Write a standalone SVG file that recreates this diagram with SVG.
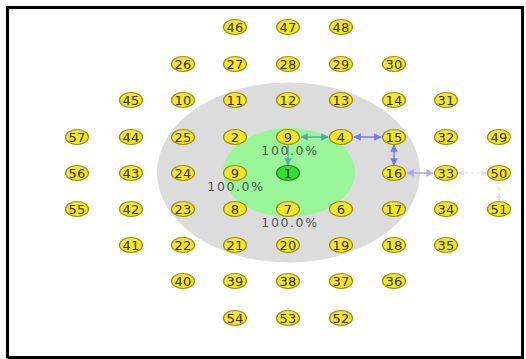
<svg xmlns="http://www.w3.org/2000/svg" width="526" height="359" viewBox="0 0 526 359">
<defs>
<style>
.n ellipse{fill:#f5e52a;stroke:#9a8a20;stroke-width:1.2}
.n text{font-family:"DejaVu Sans",sans-serif;font-size:13px;fill:#333322;text-anchor:middle;letter-spacing:0.3px}
.g ellipse{fill:#33dd33;stroke:#228822}
.pct{font-family:"DejaVu Sans",sans-serif;font-size:12.5px;fill:#555;text-anchor:middle;letter-spacing:1.6px}
.t{stroke:#55aaaa;stroke-width:1.5;fill:none}
.b{stroke:#7777ee;stroke-width:1.5;fill:none}
.b2{stroke:#aaaaf5;stroke-width:1.5;fill:none}
.f{stroke:#dcdcf8;stroke-width:1.2;fill:none;stroke-dasharray:3 3}
</style>
<marker id="at" viewBox="0 0 10 10" refX="9" refY="5" markerWidth="5" markerHeight="5" orient="auto-start-reverse"><path d="M0,0L10,5L0,10z" fill="#55aaaa"/></marker>
<marker id="ab" viewBox="0 0 10 10" refX="9" refY="5" markerWidth="5" markerHeight="5" orient="auto-start-reverse"><path d="M0,0L10,5L0,10z" fill="#7777ee"/></marker>
<marker id="ab2" viewBox="0 0 10 10" refX="9" refY="5" markerWidth="5" markerHeight="5" orient="auto-start-reverse"><path d="M0,0L10,5L0,10z" fill="#aaaaf5"/></marker>
<marker id="af" viewBox="0 0 10 10" refX="9" refY="5" markerWidth="5" markerHeight="5" orient="auto-start-reverse"><path d="M0,0L10,5L0,10z" fill="#dcdcf8"/></marker>
</defs>
<rect width="526" height="359" fill="#fff"/>
<path d="M7.5,358 V7.5 H522.5 V357.5 H7.5" fill="none" stroke="#000" stroke-width="3"/>
<ellipse cx="288.5" cy="172.5" rx="131.5" ry="90" fill="#dcdcdc"/>
<ellipse cx="289" cy="172.5" rx="66" ry="44.5" fill="#98f598"/>
<g id="connectors">
<line class="t" x1="301" y1="137" x2="328" y2="137" marker-start="url(#at)" marker-end="url(#at)"/>
<line class="t" x1="288" y1="145" x2="288" y2="165" marker-end="url(#at)"/>
<line class="b" x1="354" y1="137" x2="381" y2="137" marker-start="url(#ab)" marker-end="url(#ab)"/>
<line class="b" x1="394" y1="145" x2="394" y2="165" marker-start="url(#ab)" marker-end="url(#ab)"/>
<line class="b2" x1="407" y1="173" x2="433" y2="173" marker-start="url(#ab2)" marker-end="url(#ab2)"/>
<line class="f" x1="459" y1="173" x2="486" y2="173" marker-start="url(#af)" marker-end="url(#af)"/>
<line class="f" x1="499" y1="181" x2="499" y2="201" marker-end="url(#af)"/>
</g>
<text class="pct" x="290" y="155">100.0%</text>
<text class="pct" x="236" y="191">100.0%</text>
<text class="pct" x="290" y="227">100.0%</text>
<g id="n46" class="n"><ellipse cx="235" cy="27" rx="11.5" ry="7.5"/><text x="235" y="31.5">46</text></g>
<g id="n47" class="n"><ellipse cx="288" cy="27" rx="11.5" ry="7.5"/><text x="288" y="31.5">47</text></g>
<g id="n48" class="n"><ellipse cx="341" cy="27" rx="11.5" ry="7.5"/><text x="341" y="31.5">48</text></g>
<g id="n26" class="n"><ellipse cx="183" cy="64" rx="11.5" ry="7.5"/><text x="183" y="68.5">26</text></g>
<g id="n27" class="n"><ellipse cx="235" cy="64" rx="11.5" ry="7.5"/><text x="235" y="68.5">27</text></g>
<g id="n28" class="n"><ellipse cx="288" cy="64" rx="11.5" ry="7.5"/><text x="288" y="68.5">28</text></g>
<g id="n29" class="n"><ellipse cx="341" cy="64" rx="11.5" ry="7.5"/><text x="341" y="68.5">29</text></g>
<g id="n30" class="n"><ellipse cx="394" cy="64" rx="11.5" ry="7.5"/><text x="394" y="68.5">30</text></g>
<g id="n45" class="n"><ellipse cx="131" cy="100" rx="11.5" ry="7.5"/><text x="131" y="104.5">45</text></g>
<g id="n10" class="n"><ellipse cx="183" cy="100" rx="11.5" ry="7.5"/><text x="183" y="104.5">10</text></g>
<g id="n11" class="n"><ellipse cx="235" cy="100" rx="11.5" ry="7.5"/><text x="235" y="104.5">11</text></g>
<g id="n12" class="n"><ellipse cx="288" cy="100" rx="11.5" ry="7.5"/><text x="288" y="104.5">12</text></g>
<g id="n13" class="n"><ellipse cx="341" cy="100" rx="11.5" ry="7.5"/><text x="341" y="104.5">13</text></g>
<g id="n14" class="n"><ellipse cx="394" cy="100" rx="11.5" ry="7.5"/><text x="394" y="104.5">14</text></g>
<g id="n31" class="n"><ellipse cx="446" cy="100" rx="11.5" ry="7.5"/><text x="446" y="104.5">31</text></g>
<g id="n57" class="n"><ellipse cx="77" cy="137" rx="11.5" ry="7.5"/><text x="77" y="141.5">57</text></g>
<g id="n44" class="n"><ellipse cx="131" cy="137" rx="11.5" ry="7.5"/><text x="131" y="141.5">44</text></g>
<g id="n25" class="n"><ellipse cx="183" cy="137" rx="11.5" ry="7.5"/><text x="183" y="141.5">25</text></g>
<g id="n2" class="n"><ellipse cx="235" cy="137" rx="11.5" ry="7.5"/><text x="235" y="141.5">2</text></g>
<g id="n9b" class="n"><ellipse cx="288" cy="137" rx="11.5" ry="7.5"/><text x="288" y="141.5">9</text></g>
<g id="n4" class="n"><ellipse cx="341" cy="137" rx="11.5" ry="7.5"/><text x="341" y="141.5">4</text></g>
<g id="n15" class="n"><ellipse cx="394" cy="137" rx="11.5" ry="7.5"/><text x="394" y="141.5">15</text></g>
<g id="n32" class="n"><ellipse cx="446" cy="137" rx="11.5" ry="7.5"/><text x="446" y="141.5">32</text></g>
<g id="n49" class="n"><ellipse cx="499" cy="137" rx="11.5" ry="7.5"/><text x="499" y="141.5">49</text></g>
<g id="n56" class="n"><ellipse cx="77" cy="173" rx="11.5" ry="7.5"/><text x="77" y="177.5">56</text></g>
<g id="n43" class="n"><ellipse cx="131" cy="173" rx="11.5" ry="7.5"/><text x="131" y="177.5">43</text></g>
<g id="n24" class="n"><ellipse cx="183" cy="173" rx="11.5" ry="7.5"/><text x="183" y="177.5">24</text></g>
<g id="n9" class="n"><ellipse cx="235" cy="173" rx="11.5" ry="7.5"/><text x="235" y="177.5">9</text></g>
<g id="n1" class="n g"><ellipse cx="288" cy="173" rx="11.5" ry="7.5"/><text x="288" y="177.5">1</text></g>
<g id="n16" class="n"><ellipse cx="394" cy="173" rx="11.5" ry="7.5"/><text x="394" y="177.5">16</text></g>
<g id="n33" class="n"><ellipse cx="446" cy="173" rx="11.5" ry="7.5"/><text x="446" y="177.5">33</text></g>
<g id="n50" class="n"><ellipse cx="499" cy="173" rx="11.5" ry="7.5"/><text x="499" y="177.5">50</text></g>
<g id="n55" class="n"><ellipse cx="77" cy="209" rx="11.5" ry="7.5"/><text x="77" y="213.5">55</text></g>
<g id="n42" class="n"><ellipse cx="131" cy="209" rx="11.5" ry="7.5"/><text x="131" y="213.5">42</text></g>
<g id="n23" class="n"><ellipse cx="183" cy="209" rx="11.5" ry="7.5"/><text x="183" y="213.5">23</text></g>
<g id="n8" class="n"><ellipse cx="235" cy="209" rx="11.5" ry="7.5"/><text x="235" y="213.5">8</text></g>
<g id="n7" class="n"><ellipse cx="288" cy="209" rx="11.5" ry="7.5"/><text x="288" y="213.5">7</text></g>
<g id="n6" class="n"><ellipse cx="341" cy="209" rx="11.5" ry="7.5"/><text x="341" y="213.5">6</text></g>
<g id="n17" class="n"><ellipse cx="394" cy="209" rx="11.5" ry="7.5"/><text x="394" y="213.5">17</text></g>
<g id="n34" class="n"><ellipse cx="446" cy="209" rx="11.5" ry="7.5"/><text x="446" y="213.5">34</text></g>
<g id="n51" class="n"><ellipse cx="499" cy="209" rx="11.5" ry="7.5"/><text x="499" y="213.5">51</text></g>
<g id="n41" class="n"><ellipse cx="131" cy="245" rx="11.5" ry="7.5"/><text x="131" y="249.5">41</text></g>
<g id="n22" class="n"><ellipse cx="183" cy="245" rx="11.5" ry="7.5"/><text x="183" y="249.5">22</text></g>
<g id="n21" class="n"><ellipse cx="235" cy="245" rx="11.5" ry="7.5"/><text x="235" y="249.5">21</text></g>
<g id="n20" class="n"><ellipse cx="288" cy="245" rx="11.5" ry="7.5"/><text x="288" y="249.5">20</text></g>
<g id="n19" class="n"><ellipse cx="341" cy="245" rx="11.5" ry="7.5"/><text x="341" y="249.5">19</text></g>
<g id="n18" class="n"><ellipse cx="394" cy="245" rx="11.5" ry="7.5"/><text x="394" y="249.5">18</text></g>
<g id="n35" class="n"><ellipse cx="446" cy="245" rx="11.5" ry="7.5"/><text x="446" y="249.5">35</text></g>
<g id="n40" class="n"><ellipse cx="183" cy="281" rx="11.5" ry="7.5"/><text x="183" y="285.5">40</text></g>
<g id="n39" class="n"><ellipse cx="235" cy="281" rx="11.5" ry="7.5"/><text x="235" y="285.5">39</text></g>
<g id="n38" class="n"><ellipse cx="288" cy="281" rx="11.5" ry="7.5"/><text x="288" y="285.5">38</text></g>
<g id="n37" class="n"><ellipse cx="341" cy="281" rx="11.5" ry="7.5"/><text x="341" y="285.5">37</text></g>
<g id="n36" class="n"><ellipse cx="394" cy="281" rx="11.5" ry="7.5"/><text x="394" y="285.5">36</text></g>
<g id="n54" class="n"><ellipse cx="235" cy="318" rx="11.5" ry="7.5"/><text x="235" y="322.5">54</text></g>
<g id="n53" class="n"><ellipse cx="288" cy="318" rx="11.5" ry="7.5"/><text x="288" y="322.5">53</text></g>
<g id="n52" class="n"><ellipse cx="341" cy="318" rx="11.5" ry="7.5"/><text x="341" y="322.5">52</text></g>
</svg>
